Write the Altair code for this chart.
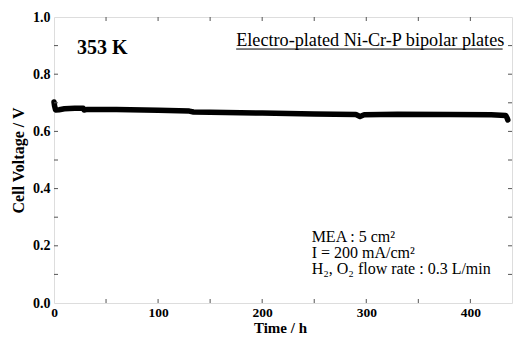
import altair as alt
import pandas as pd

# Time (h) and cell voltage (V)
time_h = [0, 0.5, 1.5, 5, 10, 20, 28, 29, 32, 60, 100, 130, 134, 150, 200, 250,
          290, 294, 298, 330, 380, 420, 434, 435.5, 436]
voltage = [0.703, 0.69, 0.675, 0.676, 0.679, 0.681, 0.681, 0.675, 0.677, 0.677,
           0.674, 0.671, 0.668, 0.667, 0.664, 0.661, 0.659, 0.652, 0.658, 0.660,
           0.659, 0.658, 0.656, 0.645, 0.640]

x_ticks = [0, 100, 200, 300, 400]
x_minor = [50, 100, 150, 200, 250, 300, 350, 400]
y_ticks = [0.0, 0.2, 0.4, 0.6, 0.8, 1.0]
y_minor = [0.1, 0.2, 0.3, 0.4, 0.5, 0.6, 0.7, 0.8, 0.9]

label_text = ["353 K"]
label_t = [22]
label_v = [0.869]

title_text = ["Electro-plated Ni-Cr-P bipolar plates"]
title_t = [175]
title_v = [0.9]
underline_t = [175]
underline_t2 = [431]
underline_v = [0.888]

cond_text = ["MEA : 5 cm²", "I = 200 mA/cm²", "H₂, O₂ flow rate : 0.3 L/min"]
cond_t = [247.5, 247.5, 247.5]
cond_v = [0.214, 0.159, 0.1]

W, H = 458, 286
TL = 4
FONT = "Liberation Serif"
GREY = "#8a8a8a"

df = pd.DataFrame({"t": time_h, "v": voltage})
xs = alt.Scale(domain=[0, 440], nice=False, zero=False)
ys = alt.Scale(domain=[0, 1], nice=False)

main = alt.Chart(df).mark_line(color="black", strokeWidth=5.5, strokeCap="round",
                               strokeJoin="round").encode(
    x=alt.X("t:Q", scale=xs, axis=alt.Axis(
        orient="bottom", values=x_ticks, ticks=False, domain=False, grid=False,
        labelFont=FONT, labelFontWeight="bold", labelFontSize=13.5, labelColor="black",
        labelPadding=2, labelFlush=False, labelBaseline="top",
        title="Time / h", titleFont=FONT, titleFontWeight="bold", titleFontSize=15,
        titleColor="black", titleX=226, titleY=29, titleBaseline="alphabetic")),
    y=alt.Y("v:Q", scale=ys, axis=alt.Axis(
        orient="left", values=y_ticks, format=".1f", ticks=False, domain=False, grid=False,
        labelFont=FONT, labelFontWeight="bold", labelFontSize=14, labelColor="black",
        labelPadding=4,
        title="Cell Voltage / V", titleFont=FONT, titleFontWeight="bold", titleFontSize=16,
        titleColor="black", titleX=-36, titleY=H / 2, titleAngle=270,
        titleBaseline="middle", titleAlign="center")),
)

xt = pd.DataFrame({"t": x_minor})
yt = pd.DataFrame({"v": y_minor})
tick_kw = dict(color="#555", strokeWidth=1)
xt_bot = alt.Chart(xt).mark_rule(**tick_kw).encode(
    x=alt.X("t:Q", scale=xs), y=alt.value(H), y2=alt.value(H - TL))
xt_top = alt.Chart(xt).mark_rule(**tick_kw).encode(
    x=alt.X("t:Q", scale=xs), y=alt.value(0), y2=alt.value(TL))
yt_left = alt.Chart(yt).mark_rule(**tick_kw).encode(
    y=alt.Y("v:Q", scale=ys), x=alt.value(0), x2=alt.value(TL))
yt_right = alt.Chart(yt).mark_rule(**tick_kw).encode(
    y=alt.Y("v:Q", scale=ys), x=alt.value(W), x2=alt.value(W - TL))

lab = alt.Chart(pd.DataFrame({"t": label_t, "v": label_v, "s": label_text})).mark_text(
    font=FONT, fontWeight="bold", fontSize=20, align="left", baseline="alphabetic",
    color="black").encode(x=alt.X("t:Q", scale=xs), y=alt.Y("v:Q", scale=ys), text="s:N")

ttl = alt.Chart(pd.DataFrame({"t": title_t, "v": title_v, "s": title_text})).mark_text(
    font=FONT, fontSize=18.2, align="left", baseline="alphabetic",
    color="black").encode(x=alt.X("t:Q", scale=xs), y=alt.Y("v:Q", scale=ys), text="s:N")

ul = alt.Chart(pd.DataFrame({"t": underline_t, "t2": underline_t2, "v": underline_v})).mark_rule(
    color="black", strokeWidth=1).encode(
    x=alt.X("t:Q", scale=xs), x2="t2:Q", y=alt.Y("v:Q", scale=ys))

cond = alt.Chart(pd.DataFrame({"t": cond_t, "v": cond_v, "s": cond_text})).mark_text(
    font=FONT, fontSize=16, align="left", baseline="alphabetic",
    color="black").encode(x=alt.X("t:Q", scale=xs), y=alt.Y("v:Q", scale=ys), text="s:N")

chart = alt.layer(main, xt_bot, xt_top, yt_left, yt_right, lab, ttl, ul, cond).properties(
    width=W, height=H,
    autosize=alt.AutoSizeParams(type="none"),
    padding={"left": 46, "top": 9, "right": 1, "bottom": 32},
).configure_view(stroke=GREY, strokeWidth=1).configure(background="white")

chart.save("out.html", embed_options={"renderer": "svg", "actions": False})
